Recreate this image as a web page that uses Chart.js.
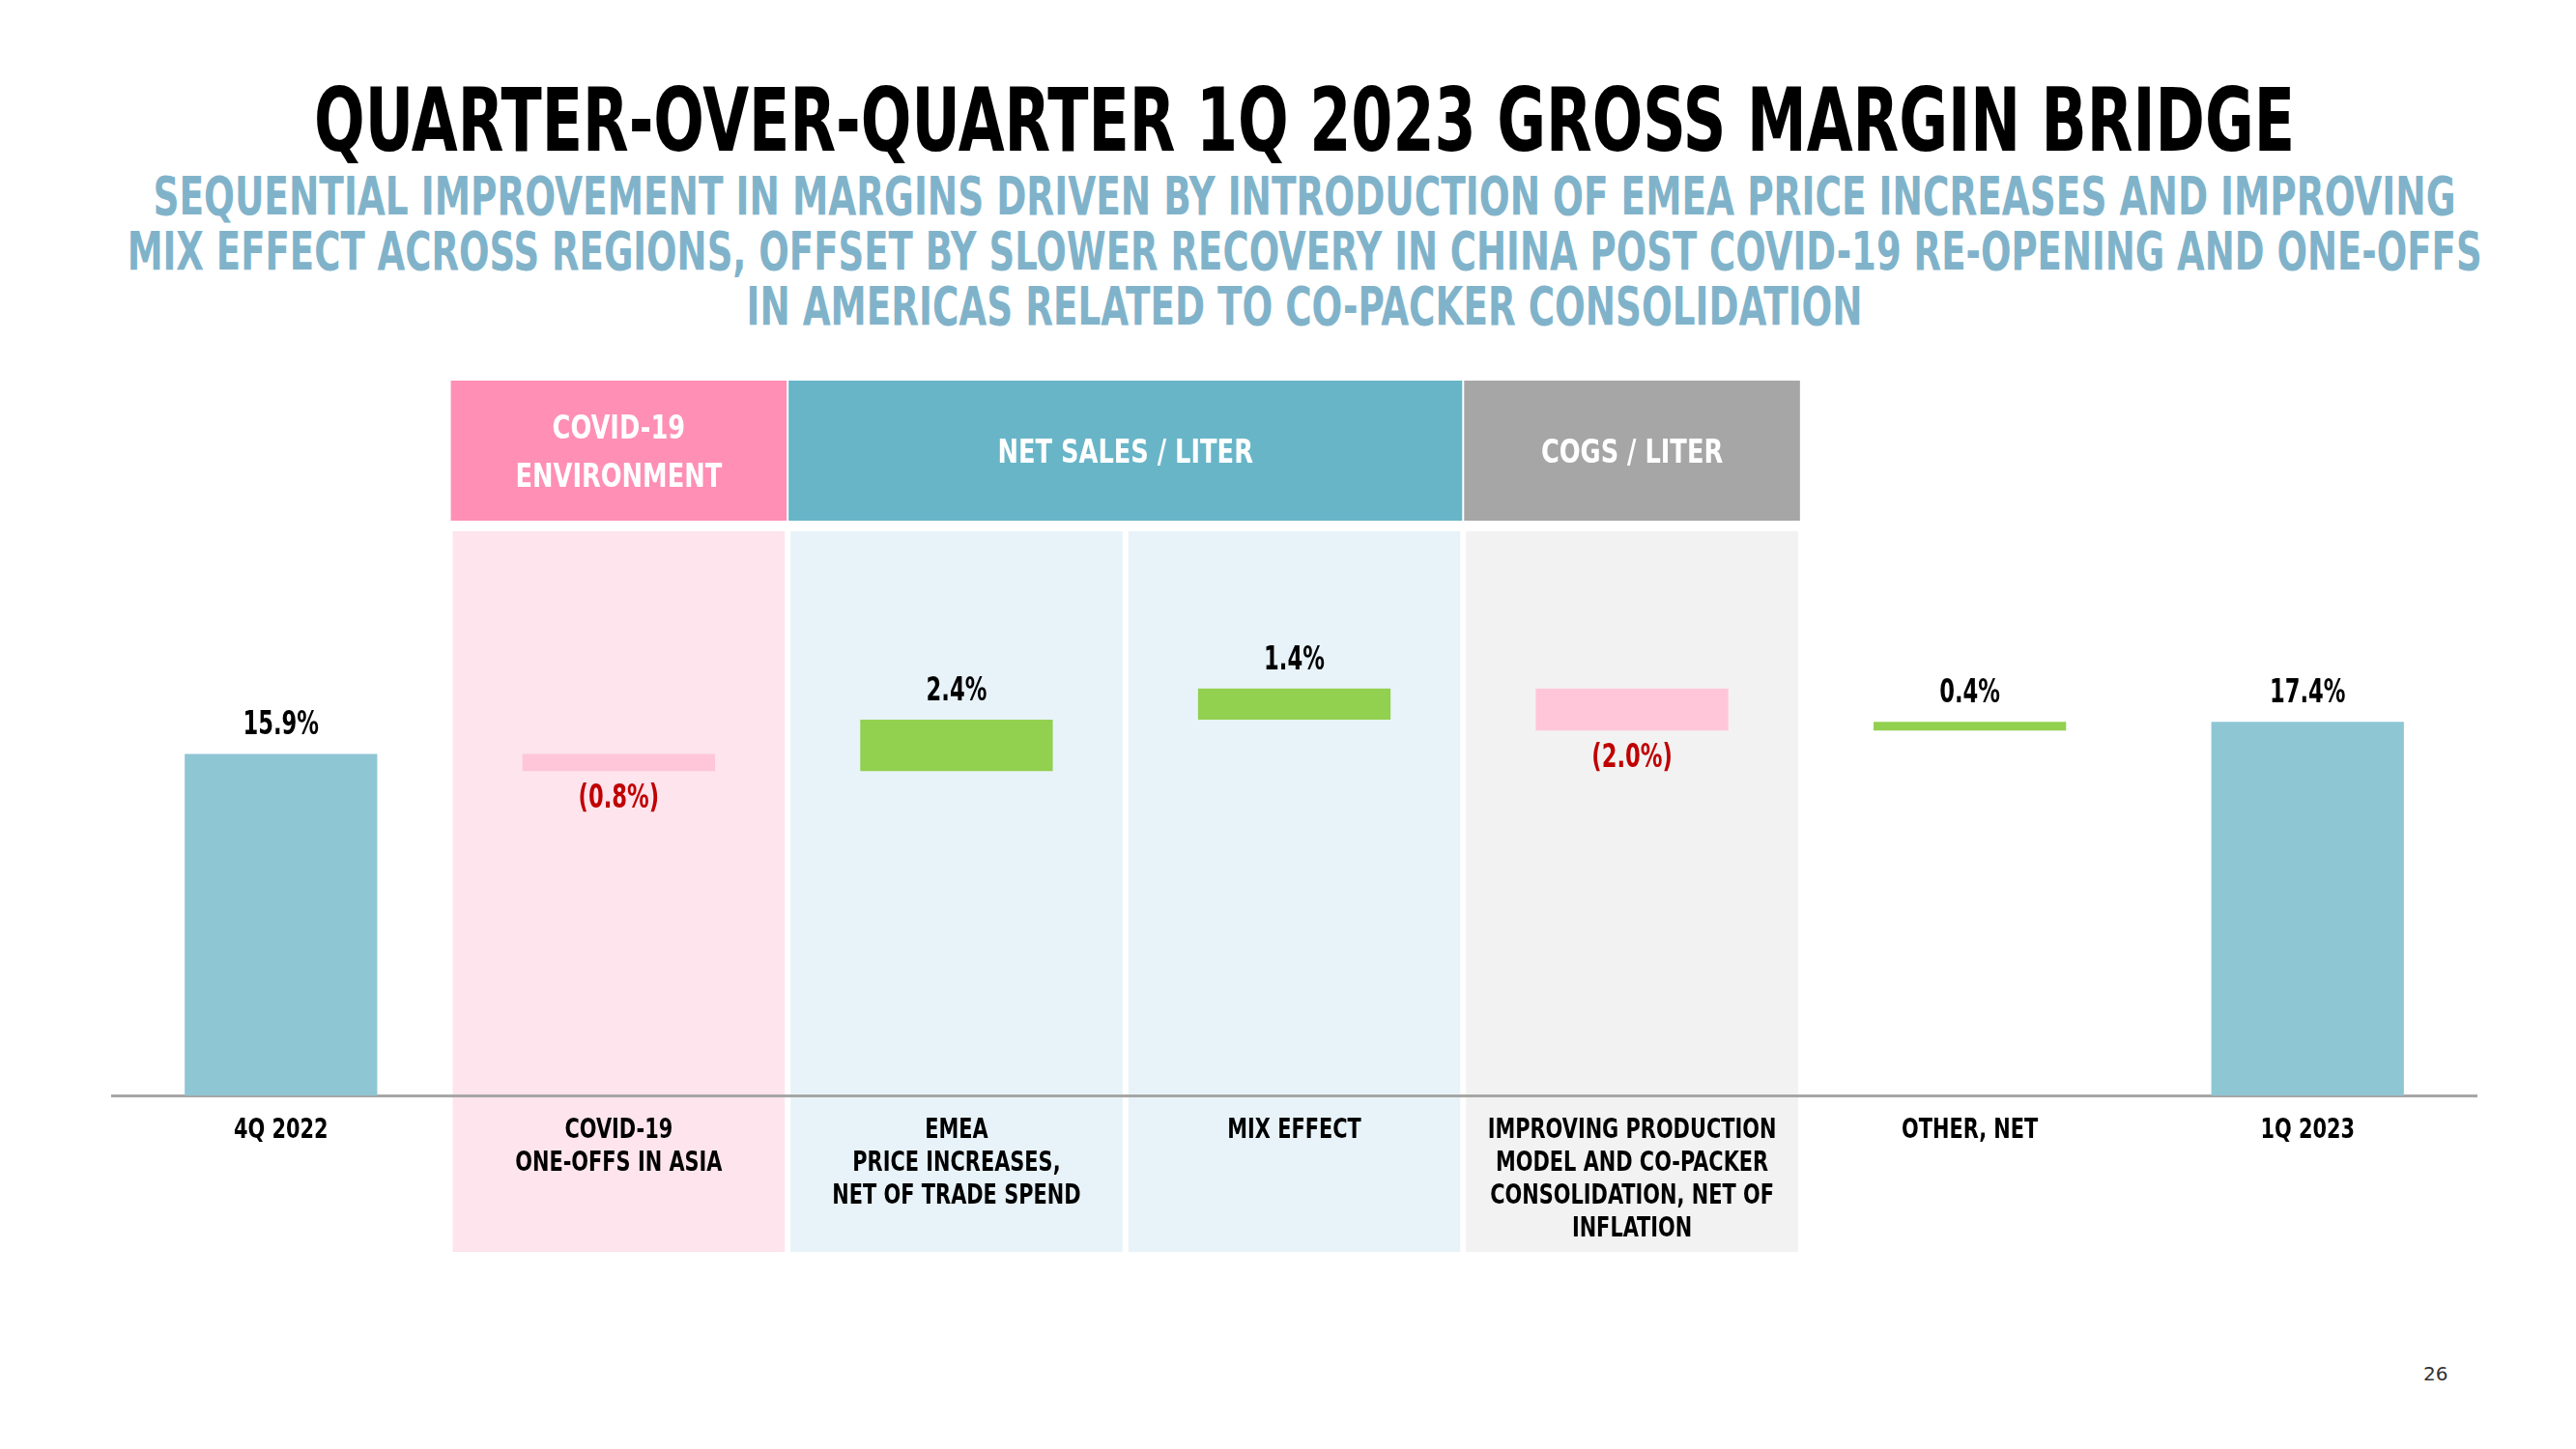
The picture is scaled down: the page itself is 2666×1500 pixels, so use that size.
<!DOCTYPE html>
<html>
<head>
<meta charset="utf-8">
<script src="https://cdn.jsdelivr.net/npm/chart.js@4.4.1/dist/chart.umd.min.js"></script>
<style>
  html, body { margin: 0; padding: 0; background: #fff; }
  body { width: 2666px; height: 1500px; position: relative; overflow: hidden;
         font-family: "Liberation Sans Narrow", "DejaVu Sans Condensed", "Roboto", sans-serif; font-weight: bold; }
  .line { position: absolute; left: -1150px; width: 5000px; text-align: center; white-space: nowrap; }
  .line span { display: inline-block; transform-origin: 50% 50%; }
  #title { top: 80px; font-size: 90px; line-height: 90px; color: #000; }
  .sub { font-size: 55px; line-height: 57px; color: #80b3ca; }
  #wrap { position: absolute; left: 0; top: 380px; width: 2666px; height: 1000px; }
  #page { position: absolute; left: 2508px; top: 1410px; font-size: 20px; font-weight: normal; color: #333;
          font-family: "DejaVu Sans", sans-serif; }
</style>
</head>
<body>
<div class="line" id="title"><span data-w="2050">QUARTER-OVER-QUARTER 1Q 2023 GROSS MARGIN BRIDGE</span></div>
<div class="line sub" style="top:175px"><span data-w="2383">SEQUENTIAL IMPROVEMENT IN MARGINS DRIVEN BY INTRODUCTION OF EMEA PRICE INCREASES AND IMPROVING</span></div>
<div class="line sub" style="top:232px"><span data-w="2437">MIX EFFECT ACROSS REGIONS, OFFSET BY SLOWER RECOVERY IN CHINA POST COVID-19 RE-OPENING AND ONE-OFFS</span></div>
<div class="line sub" style="top:289px"><span data-w="1155">IN AMERICAS RELATED TO CO-PACKER CONSOLIDATION</span></div>
<div id="wrap"><canvas id="bridge"></canvas></div>
<div id="page">26</div>
<script>
var categories = [
  ['4Q 2022'],
  ['COVID-19', 'ONE-OFFS IN ASIA'],
  ['EMEA', 'PRICE INCREASES,', 'NET OF TRADE SPEND'],
  ['MIX EFFECT'],
  ['IMPROVING PRODUCTION', 'MODEL AND CO-PACKER', 'CONSOLIDATION, NET OF', 'INFLATION'],
  ['OTHER, NET'],
  ['1Q 2023']
];
var barStart = [0, 15.9, 15.1, 17.5, 18.95, 17.0, 0];
var barEnd = [15.9, 15.1, 17.5, 18.95, 17.0, 17.4, 17.4];
var changeValues = [15.9, -0.8, 2.4, 1.4, -2.0, 0.4, 17.4];
var barKinds = ['total', 'down', 'up', 'up', 'down', 'up', 'total'];
var headerNames = [['COVID-19', 'ENVIRONMENT'], ['NET SALES / LITER'], ['COGS / LITER']];
var headerFrom = [1, 2, 4];
var headerTo = [1, 3, 4];

var FONT = '"Liberation Sans Narrow", "DejaVu Sans Condensed", "Roboto", sans-serif';
var kindColor = { total: '#8ec6d4', up: '#92d050', down: '#ffc6d9' };
var headerColor = ['#ff8fb4', '#68b5c8', '#a6a6a6'];
var bandColor = ['#ffffff', '#fde4ed', '#e8f3f9', '#e8f3f9', '#f2f2f2', '#ffffff', '#ffffff'];

function fitLines(){
  document.querySelectorAll('.line span').forEach(function(s){
    s.style.transform = 'none';
    var w = s.getBoundingClientRect().width;
    s.style.transform = 'scaleX(' + (parseFloat(s.dataset.w) / w) + ')';
  });
}
fitLines();
if (document.fonts) document.fonts.ready.then(fitLines);

function fmt(v){
  return v < 0 ? '(' + Math.abs(v).toFixed(1) + '%)' : v.toFixed(1) + '%';
}

// narrow text: the slide uses a condensed display face
function narrowText(ctx, txt, x, y, sx){
  ctx.save();
  ctx.translate(x, y);
  ctx.scale(sx, 1);
  ctx.fillText(txt, 0, 0);
  ctx.restore();
}

var bandsPlugin = {
  id: 'bands',
  beforeDraw: function(chart){
    var ctx = chart.ctx, x = chart.scales.x;
    var half = (x.getPixelForValue(1) - x.getPixelForValue(0)) / 2;
    ctx.save();
    for (var i = 0; i < categories.length; i++) {
      if (bandColor[i] === '#ffffff') continue;
      var c = x.getPixelForValue(i);
      ctx.fillStyle = bandColor[i];
      ctx.fillRect(c - half + 3, 170, 2 * half - 6, 746);
    }
    for (var h = 0; h < headerNames.length; h++) {
      var l = x.getPixelForValue(headerFrom[h]) - half;
      var r = x.getPixelForValue(headerTo[h]) + half;
      ctx.fillStyle = headerColor[h];
      ctx.fillRect(l + 1, 14, r - l - 2, 145);
      ctx.fillStyle = '#fff';
      ctx.font = 'bold 34px ' + FONT;
      ctx.textAlign = 'center';
      ctx.textBaseline = 'middle';
      var lines = headerNames[h];
      var cy = 90 - (lines.length - 1) * 25;
      for (var k = 0; k < lines.length; k++) narrowText(ctx, lines[k], (l + r) / 2, cy + k * 50, 0.84);
    }
    ctx.restore();
  }
};

var labelPlugin = {
  id: 'valueLabels',
  afterDatasetsDraw: function(chart){
    var ctx = chart.ctx, x = chart.scales.x;
    var meta = chart.getDatasetMeta(0);
    ctx.save();
    ctx.textAlign = 'center';
    ctx.textBaseline = 'middle';
    ctx.font = 'bold 34px ' + FONT;
    meta.data.forEach(function(bar, i){
      var top = Math.min(bar.y, bar.base), bottom = Math.max(bar.y, bar.base);
      var v = changeValues[i];
      if (v < 0) {
        ctx.fillStyle = '#c00000';
        narrowText(ctx, fmt(v), bar.x, bottom + 29, 0.74);
      } else {
        ctx.fillStyle = '#000';
        narrowText(ctx, fmt(v), bar.x, top - 29, 0.74);
      }
    });
    // category labels under the axis
    ctx.font = 'bold 29px ' + FONT;
    ctx.fillStyle = '#000';
    var base = chart.chartArea.bottom;
    categories.forEach(function(lines, i){
      var cx = x.getPixelForValue(i);
      lines.forEach(function(t, k){ narrowText(ctx, t, cx, base + 36 + k * 34, 0.8); });
    });
    ctx.restore();
  }
};

var barData = barStart.map(function(s, i){ return [s, barEnd[i]]; });

var bridge = new Chart(document.getElementById('bridge').getContext('2d'), {
  type: 'bar',
  data: {
    labels: categories,
    datasets: [{
      data: barData,
      backgroundColor: barKinds.map(function(k){ return kindColor[k]; }),
      borderWidth: 0,
      barPercentage: 0.57,
      categoryPercentage: 1
    }]
  },
  options: {
    responsive: true,
    maintainAspectRatio: false,
    animation: false,
    layout: { padding: { top: 265, left: 116, right: 103, bottom: 0 } },
    plugins: { legend: { display: false }, tooltip: { enabled: false } },
    scales: {
      x: {
        grid: { display: false },
        border: { display: true, color: '#a6a6a6', width: 3 },
        ticks: { display: false },
        afterFit: function(axis){ axis.height = 246; }
      },
      y: {
        display: false,
        min: 0,
        max: 22
      }
    }
  },
  plugins: [bandsPlugin, labelPlugin]
});
</script>
</body>
</html>
